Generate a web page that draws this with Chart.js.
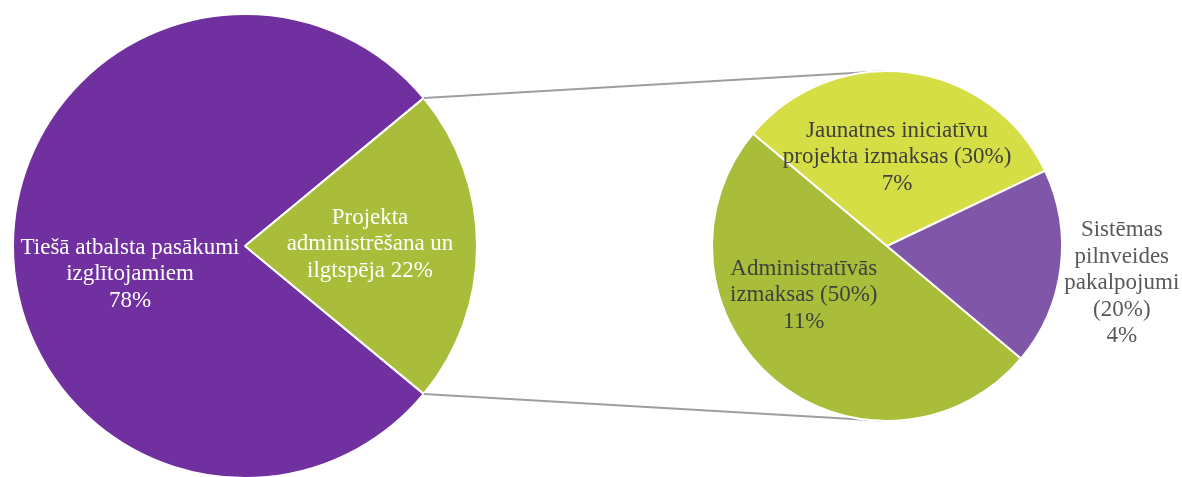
<!DOCTYPE html>
<html>
<head>
<meta charset="utf-8">
<script src="https://cdn.jsdelivr.net/npm/chart.js@4.4.1/dist/chart.umd.min.js"></script>
<style>
    html, body { margin: 0; padding: 0; background: #ffffff; }
    #wrap { position: relative; width: 1182px; height: 477px; overflow: hidden; }
    #wrap canvas { position: absolute; left: 0; top: 0; }
</style>
</head>
<body>
<div id="wrap">
    <canvas id="mainPie" width="1182" height="500"></canvas>
    <canvas id="subPie" width="1182" height="477"></canvas>
</div>
<script>
// ======================================================
// Data
// ======================================================

const mainLabels = [
    ["Tiešā atbalsta pasākumi", "izglītojamiem"],
    ["Projekta", "administrēšana un", "ilgtspēja"]
];

const mainValues = [78, 22];

const subLabels = [
    ["Administratīvās", "izmaksas (50%)"],
    ["Jaunatnes iniciatīvu", "projekta izmaksas (30%)"],
    ["Sistēmas", "pilnveides", "pakalpojumi", "(20%)"]
];

const subValues = [11, 7, 4];


// ======================================================
// Slice label plugin
// ======================================================

const sliceLabels = {

    id: "sliceLabels",

    afterDatasetsDraw(chart, args, opts) {

        const ctx = chart.ctx;
        const arcs = chart.getDatasetMeta(0).data;
        const values = chart.data.datasets[0].data;
        const lineHeight = 26.5;

        ctx.save();
        ctx.font = "23px 'Liberation Serif', 'Times New Roman', serif";
        ctx.textAlign = "center";
        ctx.textBaseline = "middle";

        arcs.forEach((arc, i) => {

            const p = arc.tooltipPosition(true);
            const style = opts.items[i];
            const lines = chart.data.labels[i].slice();
            const pct = values[i] + "%";

            if (style.inline) {
                lines[lines.length - 1] += " " + pct;
            } else {
                lines.push(pct);
            }

            const y0 = p.y + style.dy - (lines.length - 1) * lineHeight / 2;

            ctx.fillStyle = style.color;

            lines.forEach((line, k) => {
                ctx.fillText(line, p.x + style.dx, y0 + k * lineHeight);
            });

        });

        ctx.restore();

    }

};


// ======================================================
// Connector lines (main slice -> secondary pie)
// ======================================================

let mainChart = null;

const connectors = {

    id: "connectors",

    beforeDatasetsDraw(chart) {

        if (!mainChart) return;

        const ctx = chart.ctx;
        const src = mainChart.getDatasetMeta(0).data[1]
            .getProps(["x", "y", "outerRadius", "startAngle", "endAngle"], true);
        const dst = chart.getDatasetMeta(0).data[0]
            .getProps(["x", "y", "outerRadius"], true);

        ctx.save();
        ctx.strokeStyle = "#9e9e9e";
        ctx.lineWidth = 2;
        ctx.beginPath();
        ctx.moveTo(src.x + src.outerRadius * Math.cos(src.startAngle),
                   src.y + src.outerRadius * Math.sin(src.startAngle));
        ctx.lineTo(dst.x, dst.y - dst.outerRadius);
        ctx.moveTo(src.x + src.outerRadius * Math.cos(src.endAngle),
                   src.y + src.outerRadius * Math.sin(src.endAngle));
        ctx.lineTo(dst.x, dst.y + dst.outerRadius);
        ctx.stroke();
        ctx.restore();

    }

};


// ======================================================
// Main pie
// ======================================================

mainChart = new Chart(document.getElementById("mainPie"), {

    type: "pie",

    data: {
        labels: mainLabels,
        datasets: [
            {
                data: mainValues,
                backgroundColor: ["#7030a0", "#aabd3a"],
                borderColor: "#ffffff",
                borderWidth: 2
            }
        ]
    },

    options: {
        responsive: false,
        animation: false,
        rotation: 129.6,
        layout: {
            padding: { left: 12, top: 13, right: 704, bottom: 21 }
        },
        plugins: {
            legend: { display: false },
            tooltip: { enabled: false },
            sliceLabels: {
                items: [
                    { dx: 1, dy: 28, color: "#ffffff", inline: false },
                    { dx: 9, dy: -2, color: "#ffffff", inline: true }
                ]
            }
        }
    },

    plugins: [sliceLabels]

});


// ======================================================
// Secondary pie
// ======================================================

new Chart(document.getElementById("subPie"), {

    type: "pie",

    data: {
        labels: subLabels,
        datasets: [
            {
                data: subValues,
                backgroundColor: ["#aabd3a", "#d5de45", "#7f56a8"],
                borderColor: "#ffffff",
                borderWidth: 2
            }
        ]
    },

    options: {
        responsive: false,
        animation: false,
        rotation: 130,
        layout: {
            padding: { left: 711, top: 70, right: 119, bottom: 55 }
        },
        plugins: {
            legend: { display: false },
            tooltip: { enabled: false },
            sliceLabels: {
                items: [
                    { dx: -27, dy: -18, color: "#404040", inline: false },
                    { dx: -1, dy: -2, color: "#404040", inline: false },
                    { dx: 148, dy: 26, color: "#595959", inline: false }
                ]
            }
        }
    },

    plugins: [connectors, sliceLabels]

});
</script>
</body>
</html>
